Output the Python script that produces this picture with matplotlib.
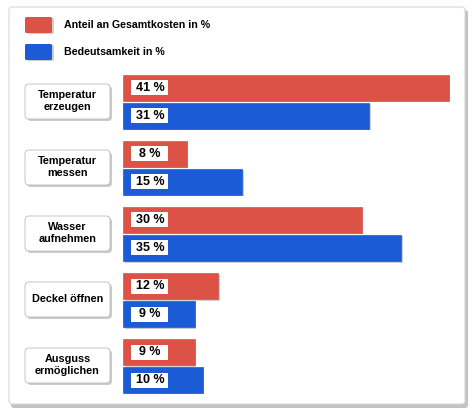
import matplotlib.pyplot as plt
from matplotlib.patches import FancyBboxPatch, Rectangle

categories = ["Temperatur\nerzeugen", "Temperatur\nmessen", "Wasser\naufnehmen",
              "Deckel öffnen", "Ausguss\nermöglichen"]
kosten = [41, 8, 30, 12, 9]
bedeutung = [31, 15, 35, 9, 10]
series_names = ["Anteil an Gesamtkosten in %", "Bedeutsamkeit in %"]

RED = "#dd5246"
BLUE = "#1b5bd6"
W, H = 474, 416
plt.rcParams["font.family"] = ["Liberation Sans", "DejaVu Sans"]

fig = plt.figure(figsize=(W / 100, H / 100), dpi=100)
fig.patch.set_facecolor("white")

# panel with shadow (figure pixels via an overlay axes)
bg = fig.add_axes([0, 0, 1, 1])
bg.set_xlim(0, W)
bg.set_ylim(H, 0)
bg.axis("off")
bg.add_patch(FancyBboxPatch((11, 10), 457, 398, boxstyle="round,pad=0,rounding_size=3",
                            fc="#9a9a9a", ec="none", alpha=0.6))
bg.add_patch(FancyBboxPatch((9, 7), 456, 397, boxstyle="round,pad=0,rounding_size=3",
                            fc="white", ec="#d8d8d8", lw=0.8))

# legend
for i, (name, col) in enumerate(zip(series_names, [RED, BLUE])):
    y = 17 + i * 27
    bg.add_patch(FancyBboxPatch((27, y + 1), 27, 16, boxstyle="round,pad=0,rounding_size=1.5",
                                fc="#888888", ec="none", alpha=0.4))
    bg.add_patch(FancyBboxPatch((25, y), 27, 16, boxstyle="round,pad=0,rounding_size=1.5",
                                fc=col, ec="none"))
    bg.text(64, y + 8, name, fontsize=7.7, fontweight="bold", va="center", ha="left")

# bar axes: whole figure, scaled so data lands in place
ax = fig.add_axes([0, 0, 1, 1])
px_per = 7.95
x0 = 123
ax.set_xlim(-x0 / px_per, (W - x0) / px_per)
ax.set_ylim((H - 102) / 66, -102 / 66)
ax.axis("off")
ax.patch.set_alpha(0)

ys = list(range(len(categories)))
hb = 26 / 66
off = 14 / 66
sx = 1.5 / px_per
sy = 1.5 / 66
for vals, col, d in [(kosten, RED, -off), (bedeutung, BLUE, off)]:
    ypos = [y + d for y in ys]
    ax.barh([y + sy for y in ypos], vals, left=sx, height=hb, color="#777777", alpha=0.35)
    ax.barh(ypos, vals, height=hb, color=col, edgecolor=col, linewidth=0.5)
    for y, v in zip(ypos, vals):
        ax.add_patch(Rectangle((8 / px_per, y - 7.5 / 66), 37 / px_per, 15 / 66,
                               fc="white", ec="none"))
        ax.text(27 / px_per, y, f"{v} %", fontsize=9, fontweight="bold",
                ha="center", va="center")

# category boxes
for y, cat in zip(ys, categories):
    yc = 102 + 66 * y
    bg.add_patch(FancyBboxPatch((27, yc - 16), 85, 35, boxstyle="round,pad=0,rounding_size=4",
                                fc="#999999", ec="none", alpha=0.5))
    bg.add_patch(FancyBboxPatch((25, yc - 18), 85, 35, boxstyle="round,pad=0,rounding_size=4",
                                fc="white", ec="#bbbbbb", lw=0.6))
    bg.text(67.5, yc - 0.5, cat, fontsize=7.8, fontweight="bold", ha="center", va="center",
            linespacing=1.25)

fig.savefig("out.png", dpi=100)
